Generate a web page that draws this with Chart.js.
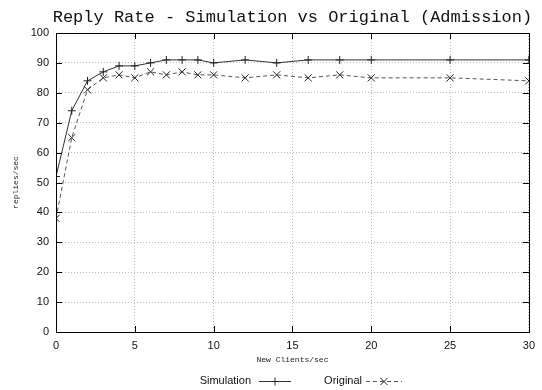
<!DOCTYPE html>
<html>
<head>
<meta charset="utf-8">
<script src="https://cdn.jsdelivr.net/npm/chart.js@4/dist/chart.umd.min.js"></script>
<style>
html,body{margin:0;padding:0;background:#fff;}
#wrap{position:relative;width:542px;height:390px;}
</style>
</head>
<body>
<div id="wrap"><canvas id="c" width="542" height="390"></canvas></div>
<script>
const titleText = "Reply Rate - Simulation vs Original (Admission)";
const xTitle = "New Clients/sec";
const yTitle = "replies/sec";
const seriesNames = ["Simulation", "Original"];
const clients = [0, 1, 2, 3, 4, 5, 6, 7, 8, 9, 10, 12, 14, 16, 18, 20, 25, 30];
const simulation = [52, 74, 84, 87, 89, 89, 90, 91, 91, 91, 90, 91, 90, 91, 91, 91, 91, 91];
const original = [38, 65, 81, 85, 86, 85, 87, 86, 87, 86, 86, 85, 86, 85, 86, 85, 85, 84];
const xTicks = [0, 5, 10, 15, 20, 25, 30];
const yTicks = [0, 10, 20, 30, 40, 50, 60, 70, 80, 90, 100];

const toPts = (xs, ys) => xs.map((x, i) => ({x: x, y: ys[i]}));

const decor = {
  id: 'decor',
  afterDraw(chart) {
    const ctx = chart.ctx;
    const a = chart.chartArea;
    const xs = chart.scales.x, ys = chart.scales.y;
    ctx.save();
    // frame
    ctx.strokeStyle = '#000';
    ctx.lineWidth = 1;
    ctx.setLineDash([]);
    ctx.strokeRect(Math.round(a.left) + 0.5, Math.round(a.top) + 0.5, Math.round(a.right - a.left), Math.round(a.bottom - a.top));
    // inward ticks
    const tl = 6;
    ctx.beginPath();
    xTicks.forEach(v => {
      const px = Math.round(xs.getPixelForValue(v)) + 0.5;
      ctx.moveTo(px, a.bottom); ctx.lineTo(px, a.bottom - tl);
      ctx.moveTo(px, a.top); ctx.lineTo(px, a.top + tl);
    });
    yTicks.forEach(v => {
      const py = Math.round(ys.getPixelForValue(v)) + 0.5;
      ctx.moveTo(a.left, py); ctx.lineTo(a.left + tl, py);
      ctx.moveTo(a.right, py); ctx.lineTo(a.right - tl, py);
    });
    ctx.stroke();
    // title
    ctx.fillStyle = '#111';
    ctx.font = '17px "Liberation Mono"';
    ctx.textAlign = 'center';
    ctx.textBaseline = 'middle';
    ctx.fillText(titleText, (a.left + a.right) / 2, 17);
    // axis titles
    ctx.font = '8px "Liberation Mono"';
    ctx.fillStyle = '#222';
    ctx.fillText(xTitle, (a.left + a.right) / 2, 360);
    ctx.save();
    ctx.translate(16, (a.top + a.bottom) / 2);
    ctx.rotate(-Math.PI / 2);
    ctx.fillText(yTitle, 0, 0);
    ctx.restore();
    // legend
    ctx.font = '11px "Liberation Sans"';
    ctx.textAlign = 'right';
    const legendY = 381;
    const items = [{textRight: 251, s0: 259, s1: 291}, {textRight: 362, s0: 366, s1: 402}];
    chart.data.datasets.forEach((ds, i) => {
      const it = items[i];
      ctx.fillStyle = '#111';
      ctx.fillText(ds.label, it.textRight, legendY);
      ctx.strokeStyle = ds.borderColor;
      ctx.lineWidth = 1;
      ctx.setLineDash(ds.borderDash || []);
      ctx.beginPath();
      ctx.moveTo(it.s0, legendY + 0.5); ctx.lineTo(it.s1, legendY + 0.5);
      ctx.stroke();
      ctx.setLineDash([]);
      ctx.strokeStyle = ds.pointBorderColor;
      Chart.helpers.drawPoint(ctx, {pointStyle: ds.pointStyle, radius: ds.pointRadius, borderWidth: 1, rotation: 0}, (it.s0 + it.s1) / 2, legendY + 0.5);
    });
    ctx.restore();
  }
};

new Chart(document.getElementById('c'), {
  type: 'line',
  data: {
    datasets: [
      {
        label: seriesNames[0],
        data: toPts(clients, simulation),
        borderColor: '#333',
        backgroundColor: '#333',
        borderWidth: 1,
        pointStyle: 'cross',
        pointRadius: 4,
        pointBorderColor: '#222',
        pointBorderWidth: 1,
        tension: 0,
        fill: false
      },
      {
        label: seriesNames[1],
        data: toPts(clients, original),
        borderColor: '#555',
        backgroundColor: '#555',
        borderWidth: 1,
        borderDash: [4, 3],
        pointStyle: 'crossRot',
        pointRadius: 5,
        pointBorderColor: '#222',
        pointBorderWidth: 1,
        tension: 0,
        fill: false
      }
    ]
  },
  options: {
    responsive: false,
    animation: false,
    devicePixelRatio: 1,
    layout: {padding: {top: 33, right: 9, left: 0, bottom: 0}},
    plugins: {legend: {display: false}, title: {display: false}, tooltip: {enabled: false}},
    scales: {
      x: {
        type: 'linear', min: 0, max: 30,
        afterBuildTicks: s => { s.ticks = xTicks.map(v => ({value: v})); },
        afterFit: s => { s.height = 58; },
        grid: {color: '#bbb', drawTicks: false, lineWidth: 1},
        border: {display: false, dash: [1, 2]},
        ticks: {padding: 7, color: '#111', font: {family: 'Liberation Sans', size: 11}, maxRotation: 0}
      },
      y: {
        type: 'linear', min: 0, max: 100,
        afterBuildTicks: s => { s.ticks = yTicks.map(v => ({value: v})); },
        afterFit: s => { s.width = 56; },
        grid: {color: '#bbb', drawTicks: false, lineWidth: 1},
        border: {display: false, dash: [1, 2]},
        ticks: {padding: 7, color: '#111', font: {family: 'Liberation Sans', size: 11}}
      }
    }
  },
  plugins: [decor]
});
</script>
</body>
</html>
